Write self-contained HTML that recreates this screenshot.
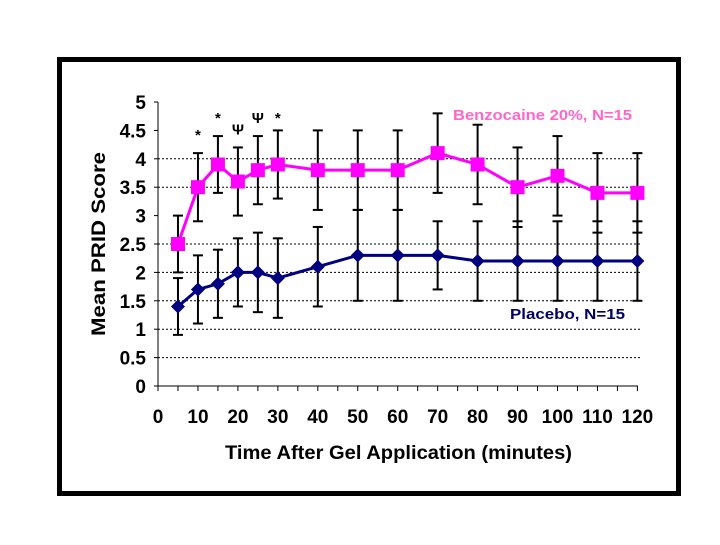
<!DOCTYPE html>
<html><head><meta charset="utf-8"><style>
body{margin:0;background:#fff;width:720px;height:540px;overflow:hidden}
svg text{font-family:"Liberation Sans",Arial,sans-serif;font-weight:bold}
</style></head><body>
<svg width="720" height="540">
<rect x="59.5" y="59.5" width="619" height="434" fill="#fff" stroke="#000" stroke-width="5"/>
<g id="g"></g>
</svg>
<script>
const times=[5,10,15,20,25,30,40,50,60,70,80,90,100,110,120];
const benzo=[2.5,3.5,3.9,3.6,3.8,3.9,3.8,3.8,3.8,4.1,3.9,3.5,3.7,3.4,3.4];
const benzoHi=[3.0,4.1,4.4,4.2,4.4,4.5,4.5,4.5,4.5,4.8,4.6,4.2,4.4,4.1,4.1];
const benzoLo=[2.0,2.9,3.4,3.0,3.2,3.3,3.1,3.1,3.1,3.4,3.2,2.8,3.0,2.7,2.7];
const placebo=[1.4,1.7,1.8,2.0,2.0,1.9,2.1,2.3,2.3,2.3,2.2,2.2,2.2,2.2,2.2];
const placHi=[1.9,2.3,2.4,2.6,2.7,2.6,2.8,3.1,3.1,2.9,2.9,2.9,2.9,2.9,2.9];
const placLo=[0.9,1.1,1.2,1.4,1.3,1.2,1.4,1.5,1.5,1.7,1.5,1.5,1.5,1.5,1.5];
const yTicks=[0,0.5,1,1.5,2,2.5,3,3.5,4,4.5,5];
const yTickLabels=["0","0.5","1","1.5","2","2.5","3","3.5","4","4.5","5"];
const gridVals=[0.5,1,1.5,2,2.5,3.5,4];
const xTicks=[0,10,20,30,40,50,60,70,80,90,100,110,120];
const marks=[{t:10,s:"*",v:4.4},{t:15,s:"*",v:4.7},{t:20,s:"Ψ",v:4.5},{t:25,s:"Ψ",v:4.7},{t:30,s:"*",v:4.7}];
const X=t=>158+t*3.995, Y=v=>386-v*56.8;
const g=document.getElementById('g'), NS="http://www.w3.org/2000/svg";
function el(tag,a,name,parent){const e=document.createElementNS(NS,tag);for(const k in a)e.setAttribute(k,a[k]);


(parent||g).appendChild(e);return e;}
gridVals.forEach(v=>el('line',{x1:158,x2:640,y1:Y(v),y2:Y(v),stroke:'#000','stroke-width':1,'stroke-dasharray':'2,2'},'gridline'));
el('line',{x1:158,x2:158,y1:Y(5),y2:Y(0),stroke:'#000'},'y-axis');
el('line',{x1:158,x2:638,y1:Y(0),y2:Y(0),stroke:'#000'},'x-axis');
yTicks.forEach((v,i)=>{el('line',{x1:154,x2:158,y1:Y(v),y2:Y(v),stroke:'#000'},'y-tick');
const t=el('text',{x:146,y:Y(v)+7,'text-anchor':'end','font-size':19},'y-tick-label');t.textContent=yTickLabels[i];});
for(let t=0;t<=120;t+=5)el('line',{x1:X(t),x2:X(t),y1:Y(0),y2:Y(0)+5,stroke:'#000'},'x-tick');
xTicks.forEach(t=>{const e=el('text',{x:X(t),y:423,'text-anchor':'middle','font-size':19},'x-tick-label');e.textContent=t;});
let e=el('text',{x:225,y:459,'font-size':19,textLength:347,lengthAdjust:'spacingAndGlyphs'},'x-axis-title');e.textContent="Time After Gel Application (minutes)";
e=el('text',{x:0,y:0,'font-size':19,transform:'translate(105,336) rotate(-90)',textLength:184,lengthAdjust:'spacingAndGlyphs'},'y-axis-title');e.textContent="Mean PRID Score";
function errs(hi,lo,name){times.forEach((t,i)=>{const x=X(t);
el('line',{x1:x,x2:x,y1:Y(hi[i]),y2:Y(lo[i]),stroke:'#000','stroke-width':2},name);
el('line',{x1:x-5,x2:x+5,y1:Y(hi[i]),y2:Y(hi[i]),stroke:'#000','stroke-width':2},name+'-cap');
el('line',{x1:x-5,x2:x+5,y1:Y(lo[i]),y2:Y(lo[i]),stroke:'#000','stroke-width':2},name+'-cap');});}
errs(benzoHi,benzoLo,'benzo-error-bar');errs(placHi,placLo,'placebo-error-bar');
el('polyline',{points:times.map((t,i)=>X(t)+','+Y(placebo[i])).join(' '),fill:'none',stroke:'#000080','stroke-width':3},'placebo-line');
el('polyline',{points:times.map((t,i)=>X(t)+','+Y(benzo[i])).join(' '),fill:'none',stroke:'#ff00ff','stroke-width':3},'benzo-line');
times.forEach((t,i)=>{const x=X(t),y=Y(placebo[i]);
el('polygon',{points:`${x},${y-7} ${x+7},${y} ${x},${y+7} ${x-7},${y}`,fill:'#000080'},'placebo-point');
const yb=Y(benzo[i]);el('rect',{x:x-7,y:yb-7,width:14,height:14,fill:'#ff00ff'},'benzo-point');});
marks.forEach(m=>{const e=el('text',{x:X(m.t),y:Y(m.v)+4,'text-anchor':'middle','font-size':15},'significance-mark');e.textContent=m.s;});
e=el('text',{x:453,y:120,'font-size':15,fill:'#ff66cc',textLength:179,lengthAdjust:'spacingAndGlyphs'},'legend-benzocaine');e.textContent="Benzocaine 20%, N=15";
e=el('text',{x:510,y:319,'font-size':15,fill:'#000066',textLength:115,lengthAdjust:'spacingAndGlyphs'},'legend-placebo');e.textContent="Placebo, N=15";
</script>
</body></html>
